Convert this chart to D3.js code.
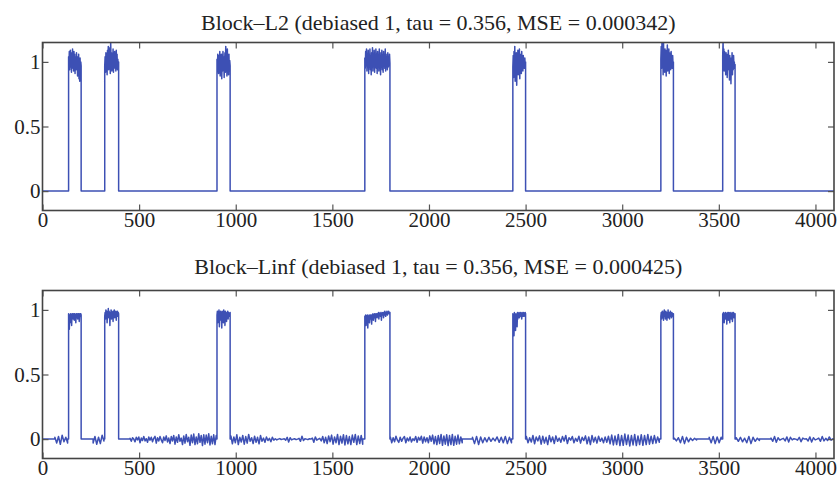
<!DOCTYPE html>
<html><head><meta charset="utf-8">
<script src="https://cdn.jsdelivr.net/npm/d3@7"></script>
<style>body{margin:0;background:#fff}svg{display:block}</style>
</head><body><svg id="c" width="839" height="484"></svg>
<script>
// ---------- data ----------
const titles = ["Block\u2013L2 (debiased 1, tau = 0.356, MSE = 0.000342)",
                "Block\u2013Linf (debiased 1, tau = 0.356, MSE = 0.000425)"];
const xTicks = [0,500,1000,1500,2000,2500,3000,3500,4000];
const xTickLabels = ["0","500","1000","1500","2000","2500","3000","3500","4000"];
const yTicks = [0,0.5,1];
const yTickLabels = ["0","0.5","1"];
const signalLength = 4096;
const blockStarts = [135, 322, 903, 1668, 2434, 3200, 3520];
const blockEnds   = [200, 394, 971, 1798, 2500, 3265, 3584];

const l2BlockValues = [
 [1.04,0.97,1.08,0.94,1.03,1.09,0.96,1.05,0.92,1.07,1.0,1.1,0.95,1.03,0.93,1.08,0.98,1.06,0.91,1.04,1.01,0.94,1.07,0.96,1.02,0.89,1.04,0.95,1.06,0.87,1.0,0.85,1.03,0.93,1.0,0.97],
 [0.97,1.04,0.92,1.07,0.99,1.03,0.9,1.09,1.0,1.12,0.94,1.06,0.97,1.11,0.91,1.15,1.0,1.07,0.93,1.04,0.98,1.1,0.92,1.05,1.0,1.08,0.95,1.03,0.93,1.09,0.98,1.06,0.94,1.02,0.96,1.0],
 [1.02,0.94,1.06,0.99,0.91,1.05,0.96,1.08,0.89,1.03,0.95,1.06,0.87,1.01,0.93,1.08,0.97,1.04,0.88,1.0,1.07,0.92,1.12,0.96,1.05,0.89,1.1,0.94,1.03,0.9,1.06,0.93,1.01,0.97],
 [1.03,0.95,1.08,0.97,1.1,0.93,1.05,0.99,1.09,0.91,1.04,0.96,1.1,0.94,1.02,0.9,1.07,0.98,1.11,0.93,1.05,0.97,1.09,0.92,1.03,0.96,1.1,0.95,1.06,0.91,1.08,0.98,1.04,0.93,1.1,0.96,1.02,0.9,1.07,0.99,1.09,0.94,1.05,0.92,1.08,0.97,1.03,0.95,1.1,0.93,1.06,0.98,1.02,0.94,1.07,0.96,1.04,0.97,1.06,0.99],
 [0.96,1.05,0.88,1.08,0.92,1.12,0.85,1.02,0.95,1.07,0.82,1.0,0.93,1.09,0.9,1.04,0.97,1.1,0.87,1.03,0.94,1.06,0.91,1.08,0.98,1.02,0.93,1.05,0.96,1.0,0.95,1.03,0.97,1.0],
 [1.02,1.12,0.95,1.18,0.99,1.08,0.9,1.15,0.97,1.06,0.92,1.1,1.0,1.04,0.89,1.09,0.96,1.13,0.93,1.05,0.98,1.1,0.91,1.07,0.99,1.03,0.94,1.08,0.97,1.02,0.95,1.05,0.98,1.0],
 [1.05,1.16,0.97,1.1,0.93,1.08,1.0,1.04,0.9,1.07,0.96,1.02,0.88,1.06,0.94,1.09,0.99,1.01,0.86,1.05,0.92,1.03,0.83,1.0,0.95,1.07,0.9,1.02,0.94,1.05,0.97,1.0,0.95,0.98]
];
const linfBlockValues = [
 [0.97,0.95,0.85,0.96,0.9,0.97,0.94,0.96,0.88,0.97,0.95,0.97,0.93,0.96,0.97,0.92,0.97,0.95,0.96,0.9,0.97,0.94,0.97,0.96,0.93,0.97,0.95,0.97,0.91,0.96,0.97,0.95,0.97,0.96],
 [0.95,0.98,0.93,1.0,0.96,0.99,0.9,0.98,0.95,1.01,0.94,0.99,0.97,0.88,0.98,0.96,1.0,0.93,0.99,0.95,0.98,0.91,0.99,0.96,1.0,0.94,0.98,0.97,0.99,0.92,0.98,0.96,0.99,0.95,0.98,0.97],
 [0.96,0.99,0.9,0.98,0.94,1.0,0.87,0.98,0.95,0.99,0.92,0.97,0.86,0.99,0.96,0.98,0.9,1.0,0.94,0.97,0.88,0.99,0.95,0.98,0.91,0.97,0.96,0.99,0.93,0.98,0.95,0.97,0.96,0.98],
 [0.95,0.94,0.96,0.88,0.95,0.93,0.96,0.86,0.95,0.94,0.96,0.9,0.95,0.96,0.93,0.96,0.89,0.96,0.95,0.97,0.92,0.96,0.94,0.97,0.95,0.91,0.97,0.96,0.97,0.94,0.97,0.95,0.98,0.93,0.97,0.96,0.98,0.95,0.97,0.92,0.98,0.96,0.97,0.98,0.94,0.98,0.96,0.99,0.97,0.95,0.98,0.97,0.99,0.96,0.98,0.97,0.99,0.98,0.97,0.98],
 [0.97,0.82,0.96,0.8,0.98,0.86,0.95,0.84,0.97,0.9,0.96,0.87,0.98,0.93,0.97,0.95,0.98,0.94,0.97,0.96,0.98,0.95,0.97,0.93,0.98,0.96,0.97,0.95,0.98,0.96,0.97,0.95,0.98,0.97],
 [0.95,0.98,0.93,0.97,0.99,0.94,0.97,0.92,0.98,1.0,0.95,0.97,0.93,0.99,0.96,0.98,0.92,0.97,0.95,1.0,0.94,0.98,0.96,0.93,0.97,0.99,0.95,0.97,0.94,0.98,0.96,0.97,0.95,0.97],
 [0.97,0.95,0.98,0.96,0.9,0.97,0.95,0.98,0.93,0.97,0.96,0.89,0.98,0.95,0.97,0.92,0.98,0.96,0.97,0.9,0.98,0.95,0.97,0.93,0.96,0.98,0.91,0.97,0.95,0.98,0.94,0.97,0.96,0.97]
];
// Linf: stretches of the zero level that carry small noise
const linfNoiseStarts = [64, 262, 453, 975, 1800, 2225, 2504, 3270, 3450, 3590, 3770];
const linfNoiseEnds   = [130, 318, 899, 1657, 2172, 2427, 3192, 3385, 3512, 3710, 4090];
const linfNoiseValues = [
 [0.015,-0.03,0.02,-0.04,0.03,-0.02,0.015,-0.03],
 [-0.03,0.02,-0.04,0.015,-0.035,0.03,-0.015],
 [0.006,-0.017,0.011,0.0,-0.021,0.014,-0.006,0.017,-0.028,0.008,-0.011,0.021,-0.014,0.003,-0.025,0.017,-0.008,0.014,-0.02,0.006,0.022,-0.031,0.011,-0.014,0.02,-0.006,-0.028,0.017,-0.011,0.025,-0.022,0.008,-0.034,0.02,-0.014,0.028,-0.039,0.017,-0.025,0.034,-0.017,0.008,-0.042,0.025,-0.031,0.036,-0.02,0.014,-0.048,0.031,-0.028,0.039,-0.042,0.017,-0.036,0.042,-0.025,0.028,-0.05,0.034,-0.039,0.031,-0.028,0.042,-0.045,0.022,-0.036,0.034,-0.042,0.028],
 [0.025,-0.036,0.017,-0.028,0.034,-0.042,0.014,-0.022,0.028,-0.039,0.02,-0.031,0.036,-0.017,0.011,-0.034,0.022,-0.025,0.014,-0.036,0.028,-0.017,0.008,-0.025,0.017,-0.011,0.006,-0.02,0.014,-0.008,0.003,-0.006,0.0,0.004,-0.003,0.0,0.003,-0.008,0.014,-0.022,0.011,-0.006,0.0,0.003,-0.004,0.0,0.006,-0.017,0.022,-0.011,0.003,0.0,-0.004,0.003,0.0,0.008,-0.025,0.017,-0.008,0.0,0.006,-0.014,0.02,-0.028,0.014,-0.034,0.025,-0.02,0.031,-0.039,0.017,-0.028,0.036,-0.042,0.022,-0.031,0.034,-0.045,0.028,-0.036,0.02,-0.042,0.031,-0.025,0.036,-0.042,0.025,-0.034,0.028,-0.039],
 [0.017,-0.028,0.011,-0.02,0.022,-0.008,-0.025,0.014,-0.017,0.006,0.02,-0.028,0.008,-0.014,0.017,-0.022,0.003,-0.011,0.02,-0.025,0.014,-0.008,0.022,-0.031,0.017,-0.02,0.011,-0.028,0.025,-0.017,0.031,-0.036,0.02,-0.042,0.028,-0.034,0.036,-0.048,0.025,-0.039,0.034,-0.05,0.028,-0.042,0.036,-0.048,0.022,-0.039,0.031,-0.036,0.017,-0.028],
 [0.014,-0.035,0.021,-0.042,0.017,-0.028,0.011,-0.021,0.014,-0.017,0.008,-0.014,0.017,-0.025,0.014,-0.028,0.021,-0.035,0.014,-0.028],
 [0.02,-0.028,0.011,-0.022,0.028,-0.036,0.017,-0.014,0.025,-0.039,0.022,-0.031,0.014,-0.042,0.028,-0.02,0.017,-0.034,0.025,-0.017,0.008,-0.025,0.02,-0.014,0.028,-0.034,0.011,-0.008,0.02,-0.028,0.006,-0.017,0.022,-0.031,0.014,-0.011,0.025,-0.036,0.017,-0.042,0.028,-0.022,0.014,-0.031,0.022,-0.017,0.008,-0.028,0.017,-0.025,0.022,-0.036,0.031,-0.045,0.025,-0.042,0.036,-0.05,0.028,-0.048,0.039,-0.042,0.031,-0.053,0.028,-0.045,0.036,-0.05,0.025,-0.042,0.034,-0.048,0.028,-0.042,0.036,-0.039,0.022,-0.034,0.028,-0.031,0.017,-0.025],
 [0.007,-0.014,0.011,-0.028,0.021,-0.035,0.014,-0.021,0.007,-0.011,0.006,-0.007],
 [0.014,-0.028,0.021,-0.035,0.017,-0.028,0.014],
 [0.011,-0.017,0.014,-0.021,0.007,-0.028,0.021,-0.035,0.014,-0.017,0.007,-0.011],
 [0.008,-0.017,0.02,-0.025,0.011,-0.008,0.0,0.006,-0.014,0.017,-0.022,0.014,-0.006,0.003,0.0,-0.008,0.014,-0.02,0.008,0.0,0.003,-0.014,0.017,-0.022,0.011,-0.006,0.0,0.008,-0.017,0.02,-0.014,0.006,-0.011,0.017,-0.008,0.003]
];

// ---------- build point lists from the data ----------
function spread(a, b, vals) {
  const n = vals.length;
  return vals.map((v, i) => [a + (b - a) * i / (n - 1), v]);
}
function buildSeries(blockVals, noiseStarts, noiseEnds, noiseVals) {
  const segs = [];
  blockStarts.forEach((s, i) => segs.push({s, e: blockEnds[i], v: blockVals[i]}));
  noiseStarts.forEach((s, i) => segs.push({s, e: noiseEnds[i], v: noiseVals[i]}));
  segs.sort((a, b) => a.s - b.s);
  let pts = [[0, 0]];
  segs.forEach(g => {
    pts.push([g.s, 0]);
    pts = pts.concat(spread(g.s, g.e, g.v));
    pts.push([g.e, 0]);
  });
  pts.push([signalLength, 0]);
  return pts;
}
const seriesL2 = buildSeries(l2BlockValues, [], [], []);
const seriesLinf = buildSeries(linfBlockValues, linfNoiseStarts, linfNoiseEnds, linfNoiseValues);

// ---------- draw ----------
const svg = d3.select("#c");
const L = 42.5, R = 834;
const panels = [
  {top: 42.5, bottom: 210.5, title: titles[0], data: seriesL2, titleY: 29.5, labY: 227},
  {top: 290.5, bottom: 458.5, title: titles[1], data: seriesLinf, titleY: 274, labY: 475}
];
const font = "'Liberation Serif', 'Times New Roman', serif";
const textColor = "#222";
const lineColor = "#3d50b4";

panels.forEach((p, k) => {
  const x = d3.scaleLinear().domain([0, signalLength]).range([L, R]);
  const y = d3.scaleLinear().domain([-0.15, 1.15]).range([p.bottom, p.top]);
  const g = svg.append("g");
  const clipId = "clip" + k;
  svg.append("clipPath").attr("id", clipId).append("rect")
    .attr("x", L).attr("y", p.top).attr("width", R - L).attr("height", p.bottom - p.top);

  g.append("path").datum(p.data)
    .attr("clip-path", `url(#${clipId})`)
    .attr("fill", "none").attr("stroke", lineColor).attr("stroke-width", 1.5)
    .attr("stroke-linejoin", "round")
    .attr("d", d3.line().x(d => x(d[0])).y(d => y(d[1])));

  // axes (inward ticks on all four sides)
  const tk = 6;
  const axB = g.append("g").attr("transform", `translate(0,${p.bottom})`)
    .call(d3.axisBottom(x).tickValues(xTicks).tickSizeInner(-tk).tickSizeOuter(0)
      .tickFormat((d, i) => xTickLabels[i]));
  const axT = g.append("g").attr("transform", `translate(0,${p.top})`)
    .call(d3.axisTop(x).tickValues(xTicks).tickSizeInner(-tk).tickSizeOuter(0).tickFormat(""));
  const axL = g.append("g").attr("transform", `translate(${L},0)`)
    .call(d3.axisLeft(y).tickValues(yTicks).tickSizeInner(-tk).tickSizeOuter(0).tickPadding(2)
      .tickFormat((d, i) => yTickLabels[i]));
  const axR = g.append("g").attr("transform", `translate(${R},0)`)
    .call(d3.axisRight(y).tickValues(yTicks).tickSizeInner(-tk).tickSizeOuter(0).tickFormat(""));
  [axB, axT, axL, axR].forEach(a => {
    a.select(".domain").remove();
    a.selectAll("line").attr("stroke", "#555").attr("stroke-width", 1.2);
    a.selectAll("text").attr("fill", textColor).style("font-family", font).style("font-size", "21px");
  });
  axB.selectAll("text").attr("dy", null).attr("y", p.labY - p.bottom);

  g.append("rect").attr("x", L).attr("y", p.top).attr("width", R - L).attr("height", p.bottom - p.top)
    .attr("fill", "none").attr("stroke", "#444").attr("stroke-width", 1.6);

  g.append("text").attr("x", (L + R) / 2).attr("y", p.titleY)
    .attr("text-anchor", "middle").attr("fill", textColor)
    .style("font-family", font).style("font-size", "22px").text(p.title);
});
</script></body></html>
